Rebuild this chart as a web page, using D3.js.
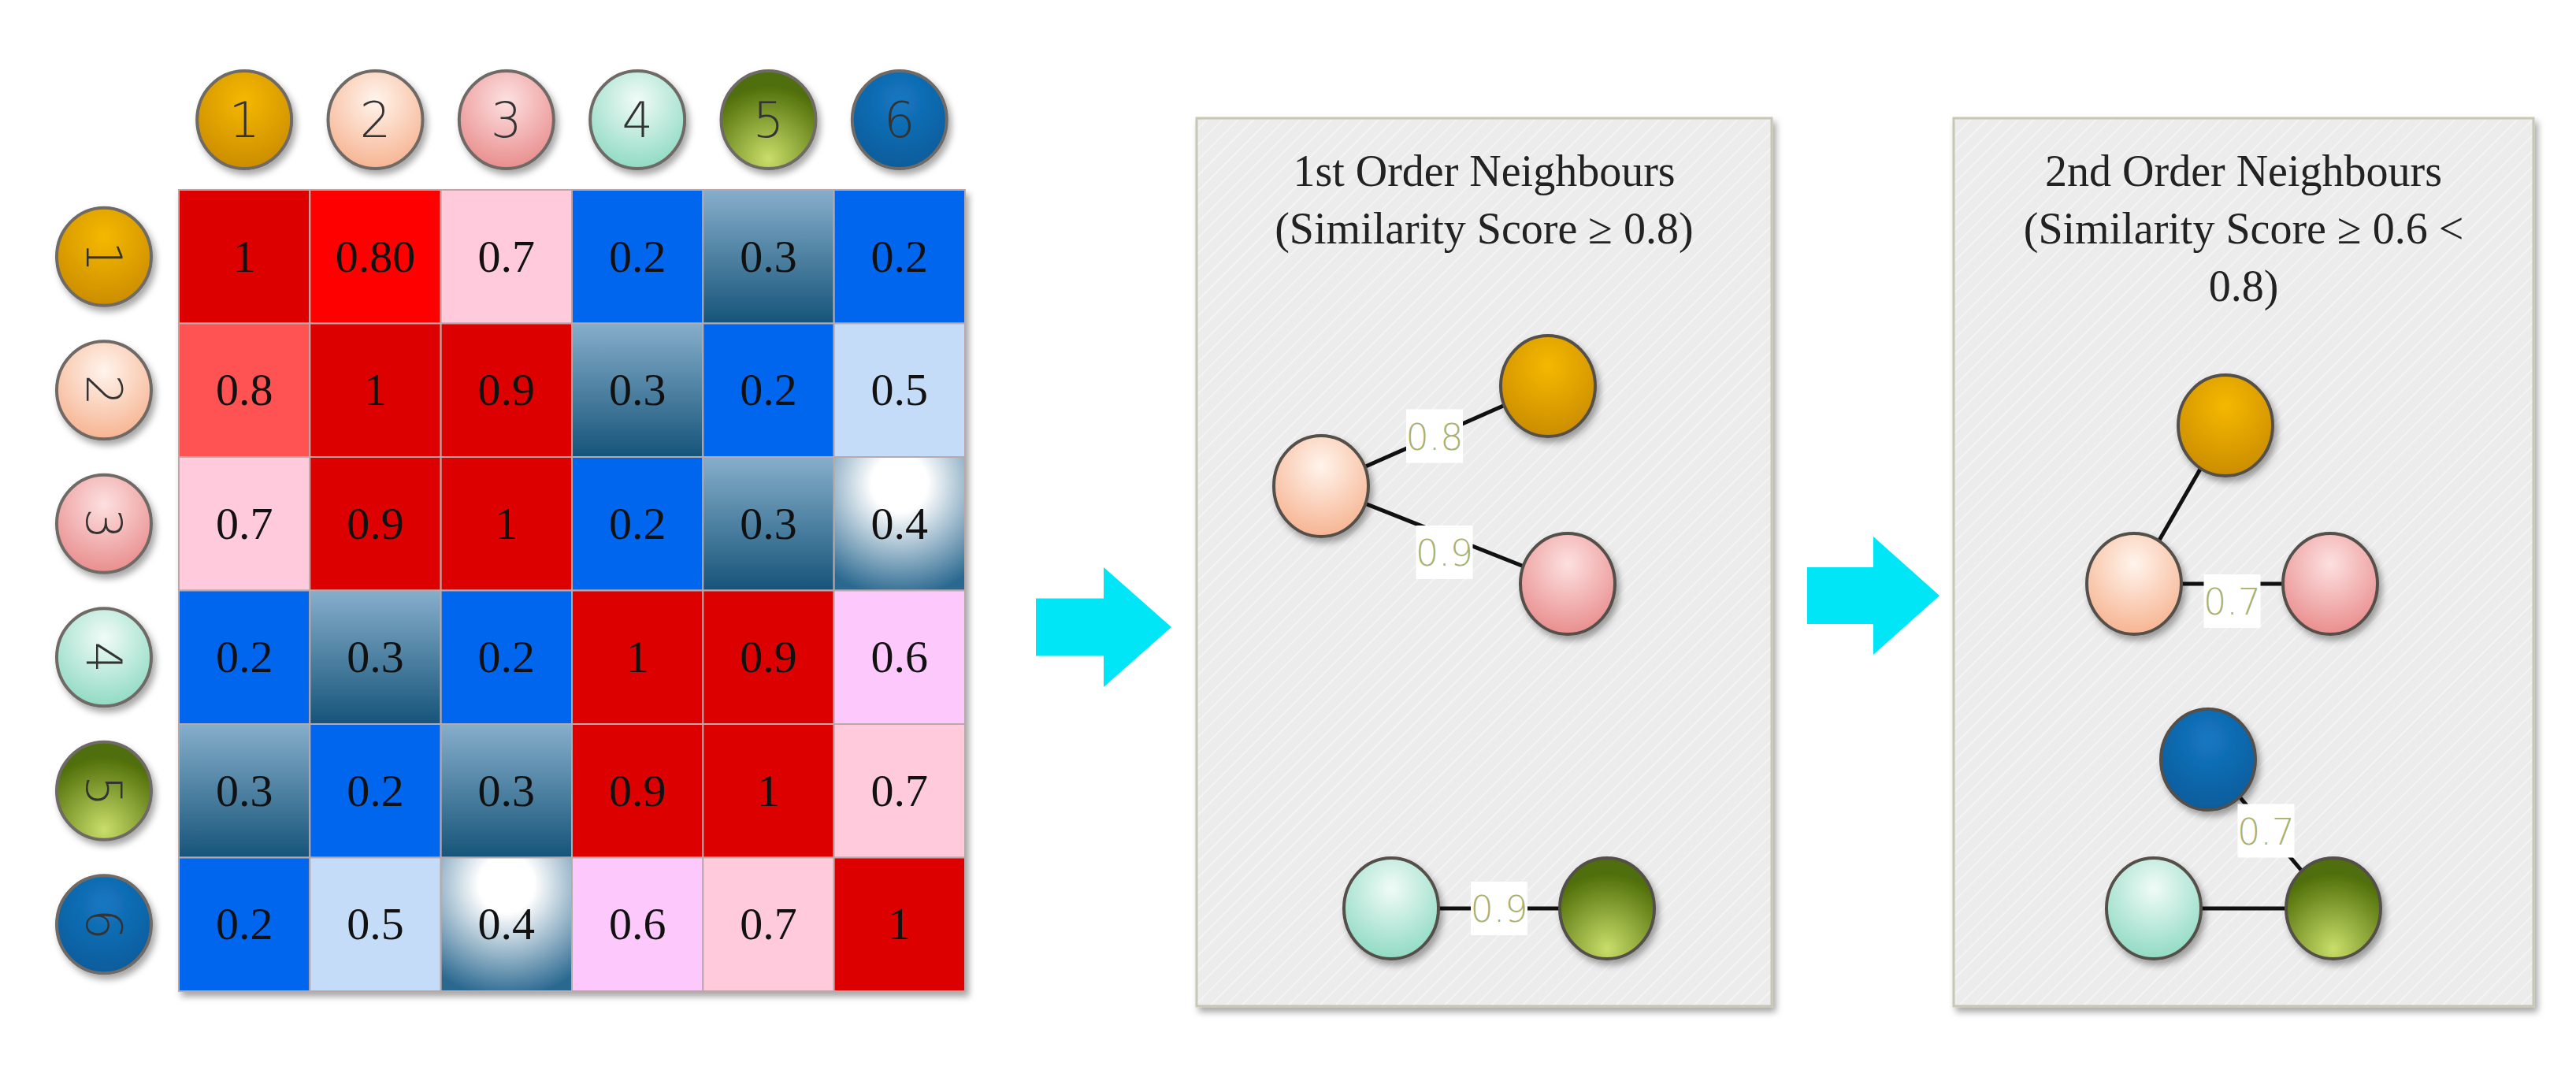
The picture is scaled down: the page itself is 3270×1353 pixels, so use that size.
<!DOCTYPE html>
<html><head><meta charset="utf-8">
<script src="https://cdn.jsdelivr.net/npm/d3@7"></script>
<style>body{margin:0;background:#fff}svg{display:block}</style>
</head><body>
<svg id="chart" width="3270" height="1353"></svg>
<script>
// similarity matrix
var ids = ["1", "2", "3", "4", "5", "6"];
var matrix = [
  ["1", "0.80", "0.7", "0.2", "0.3", "0.2"],
  ["0.8", "1", "0.9", "0.3", "0.2", "0.5"],
  ["0.7", "0.9", "1", "0.2", "0.3", "0.4"],
  ["0.2", "0.3", "0.2", "1", "0.9", "0.6"],
  ["0.3", "0.2", "0.3", "0.9", "1", "0.7"],
  ["0.2", "0.5", "0.4", "0.6", "0.7", "1"]
];
// graph panels
var firstNodes = [["1", 1965, 490], ["2", 1677, 617], ["3", 1990, 741], ["4", 1766, 1153], ["5", 2040, 1153]];
var firstEdges = [["2", "1", "0.8"], ["2", "3", "0.9"], ["4", "5", "0.9"]];
var secondNodes = [["1", 2825, 540], ["2", 2709, 741], ["3", 2958, 741], ["6", 2803, 964], ["4", 2734, 1153], ["5", 2962, 1153]];
var secondEdges = [["1", "2", ""], ["2", "3", "0.7"], ["6", "5", "0.7"], ["4", "5", ""]];

var svg = d3.select("#chart");
var defs = svg.append("defs");

var nodeCols = {"1": ["#f5b800", "#c88a00"], "2": ["#fff4ec", "#f6b08c"], "3": ["#fde0e0", "#e88888"],
  "4": ["#f0fbf7", "#8ad8c0"], "5": ["#c9de6a", "#4f6e08"], "6": ["#1477c2", "#0a5a98"]};
ids.forEach(function(k) {
  var g = defs.append("radialGradient").attr("id", "n" + k).attr("cx", "50%").attr("cy", k == "5" ? "90%" : "30%").attr("r", "75%");
  g.append("stop").attr("offset", "0%").attr("stop-color", nodeCols[k][0]);
  g.append("stop").attr("offset", "100%").attr("stop-color", nodeCols[k][1]);
});
var steel = defs.append("linearGradient").attr("id", "steel").attr("x1", 0).attr("y1", 0).attr("x2", 0).attr("y2", 1);
steel.append("stop").attr("offset", "0%").attr("stop-color", "#86aecb");
steel.append("stop").attr("offset", "100%").attr("stop-color", "#165479");
var wht = defs.append("radialGradient").attr("id", "wht").attr("cx", "50%").attr("cy", "20%").attr("r", "85%");
wht.append("stop").attr("offset", "25%").attr("stop-color", "#ffffff");
wht.append("stop").attr("offset", "100%").attr("stop-color", "#2a6890");
var hatch = defs.append("pattern").attr("id", "hatch").attr("width", 14).attr("height", 14)
  .attr("patternUnits", "userSpaceOnUse").attr("patternTransform", "rotate(-45)");
hatch.append("rect").attr("width", 14).attr("height", 14).attr("fill", "#ececec");
hatch.append("line").attr("x1", 0).attr("y1", 0).attr("x2", 14).attr("y2", 0).attr("stroke", "#f6f6f6").attr("stroke-width", 3);
var sh = defs.append("filter").attr("id", "shadow").attr("x", "-10%").attr("y", "-10%").attr("width", "130%").attr("height", "130%");
sh.append("feDropShadow").attr("dx", 4).attr("dy", 6).attr("stdDeviation", 4).attr("flood-color", "#000").attr("flood-opacity", 0.35);

var cellFill = {"1": "#dd0000", "0.80": "#ff0000", "0.8": "#ff5252", "0.9": "#dd0000", "0.7": "#ffcadb",
  "0.6": "#fdc8fb", "0.5": "#c4dcf8", "0.4": "url(#wht)", "0.3": "url(#steel)", "0.2": "#0066ee"};

// matrix
var x = d3.scaleBand().domain(ids).range([227, 1225]);
var y = d3.scaleBand().domain(ids).range([241, 1258]);
var grid = svg.append("g").attr("filter", "url(#shadow)");
matrix.forEach(function(row, i) {
  row.forEach(function(v, j) {
    grid.append("rect").attr("x", x(ids[j])).attr("y", y(ids[i]))
      .attr("width", x.bandwidth()).attr("height", y.bandwidth())
      .attr("fill", cellFill[v]).attr("stroke", "#b9a9a9").attr("stroke-width", 2);
    svg.append("text").attr("x", x(ids[j]) + x.bandwidth() / 2).attr("y", y(ids[i]) + y.bandwidth() / 2 + 19)
      .attr("text-anchor", "middle").attr("font-family", "Liberation Serif").attr("font-size", 58)
      .attr("fill", "#111").text(v);
  });
});

function badge(cx, cy, k, rot) {
  svg.append("ellipse").attr("cx", cx).attr("cy", cy).attr("rx", 60).attr("ry", 62)
    .attr("fill", "url(#n" + k + ")").attr("stroke", "#6f6a66").attr("stroke-width", 4).attr("filter", "url(#shadow)");
  svg.append("text").attr("transform", "translate(" + cx + "," + cy + ") rotate(" + rot + ")")
    .attr("text-anchor", "middle").attr("dy", 22).attr("font-family", "DejaVu Sans").attr("font-weight", 300)
    .attr("font-size", 62).attr("fill", "#333").text(k);
}
ids.forEach(function(k) {
  badge(x(k) + x.bandwidth() / 2, 152, k, 0);
  badge(132, y(k) + y.bandwidth() / 2, k, 90);
});

// arrows
function arrow(x0, x1, yc, h) {
  var p = d3.path();
  var mid = x0 + (x1 - x0) * 0.5;
  p.moveTo(x0, yc - h * 0.24); p.lineTo(mid, yc - h * 0.24); p.lineTo(mid, yc - h / 2);
  p.lineTo(x1, yc); p.lineTo(mid, yc + h / 2); p.lineTo(mid, yc + h * 0.24); p.lineTo(x0, yc + h * 0.24); p.closePath();
  svg.append("path").attr("d", p.toString()).attr("fill", "#00e6f6");
}
arrow(1315, 1487, 796, 152);
arrow(2294, 2462, 756, 150);

// panels
function panel(x0, x1, titles, nodes, edges) {
  svg.append("rect").attr("x", x0).attr("y", 150).attr("width", x1 - x0).attr("height", 1127)
    .attr("fill", "url(#hatch)").attr("stroke", "#c8c6b4").attr("stroke-width", 3).attr("filter", "url(#shadow)");
  titles.forEach(function(t, i) {
    svg.append("text").attr("x", (x0 + x1) / 2).attr("y", 236 + i * 73).attr("text-anchor", "middle")
      .attr("font-family", "Liberation Serif").attr("font-size", 56).attr("fill", "#222").text(t);
  });
  var pos = {};
  nodes.forEach(function(n) { pos[n[0]] = n; });
  edges.forEach(function(e) {
    var a = pos[e[0]], b = pos[e[1]];
    svg.append("line").attr("x1", a[1]).attr("y1", a[2]).attr("x2", b[1]).attr("y2", b[2])
      .attr("stroke", "#111").attr("stroke-width", 5);
  });
  nodes.forEach(function(n) {
    svg.append("ellipse").attr("cx", n[1]).attr("cy", n[2]).attr("rx", 60).attr("ry", 64)
      .attr("fill", "url(#n" + n[0] + ")").attr("stroke", "#554f4a").attr("stroke-width", 4).attr("filter", "url(#shadow)");
  });
  edges.forEach(function(e) {
    if (!e[2]) return;
    var a = pos[e[0]], b = pos[e[1]];
    var mx = (a[1] + b[1]) / 2, my = (a[2] + b[2]) / 2;
    if (e[0] == "2" && e[1] == "3") my += 22;
    if (e[0] == "6") { mx -= 6; my -= 4; }
    svg.append("rect").attr("x", mx - 36).attr("y", my - 34).attr("width", 72).attr("height", 68).attr("fill", "#fff");
    svg.append("text").attr("x", mx).attr("y", my + 17).attr("text-anchor", "middle")
      .attr("font-family", "DejaVu Sans").attr("font-weight", 300).attr("font-size", 46).attr("fill", "#a8b070").text(e[2]);
  });
}
panel(1519, 2249, ["1st Order Neighbours", "(Similarity Score \u2265 0.8)"], firstNodes, firstEdges);
panel(2480, 3216, ["2nd Order Neighbours", "(Similarity Score \u2265 0.6 <", "0.8)"], secondNodes, secondEdges);
</script>
</body></html>
